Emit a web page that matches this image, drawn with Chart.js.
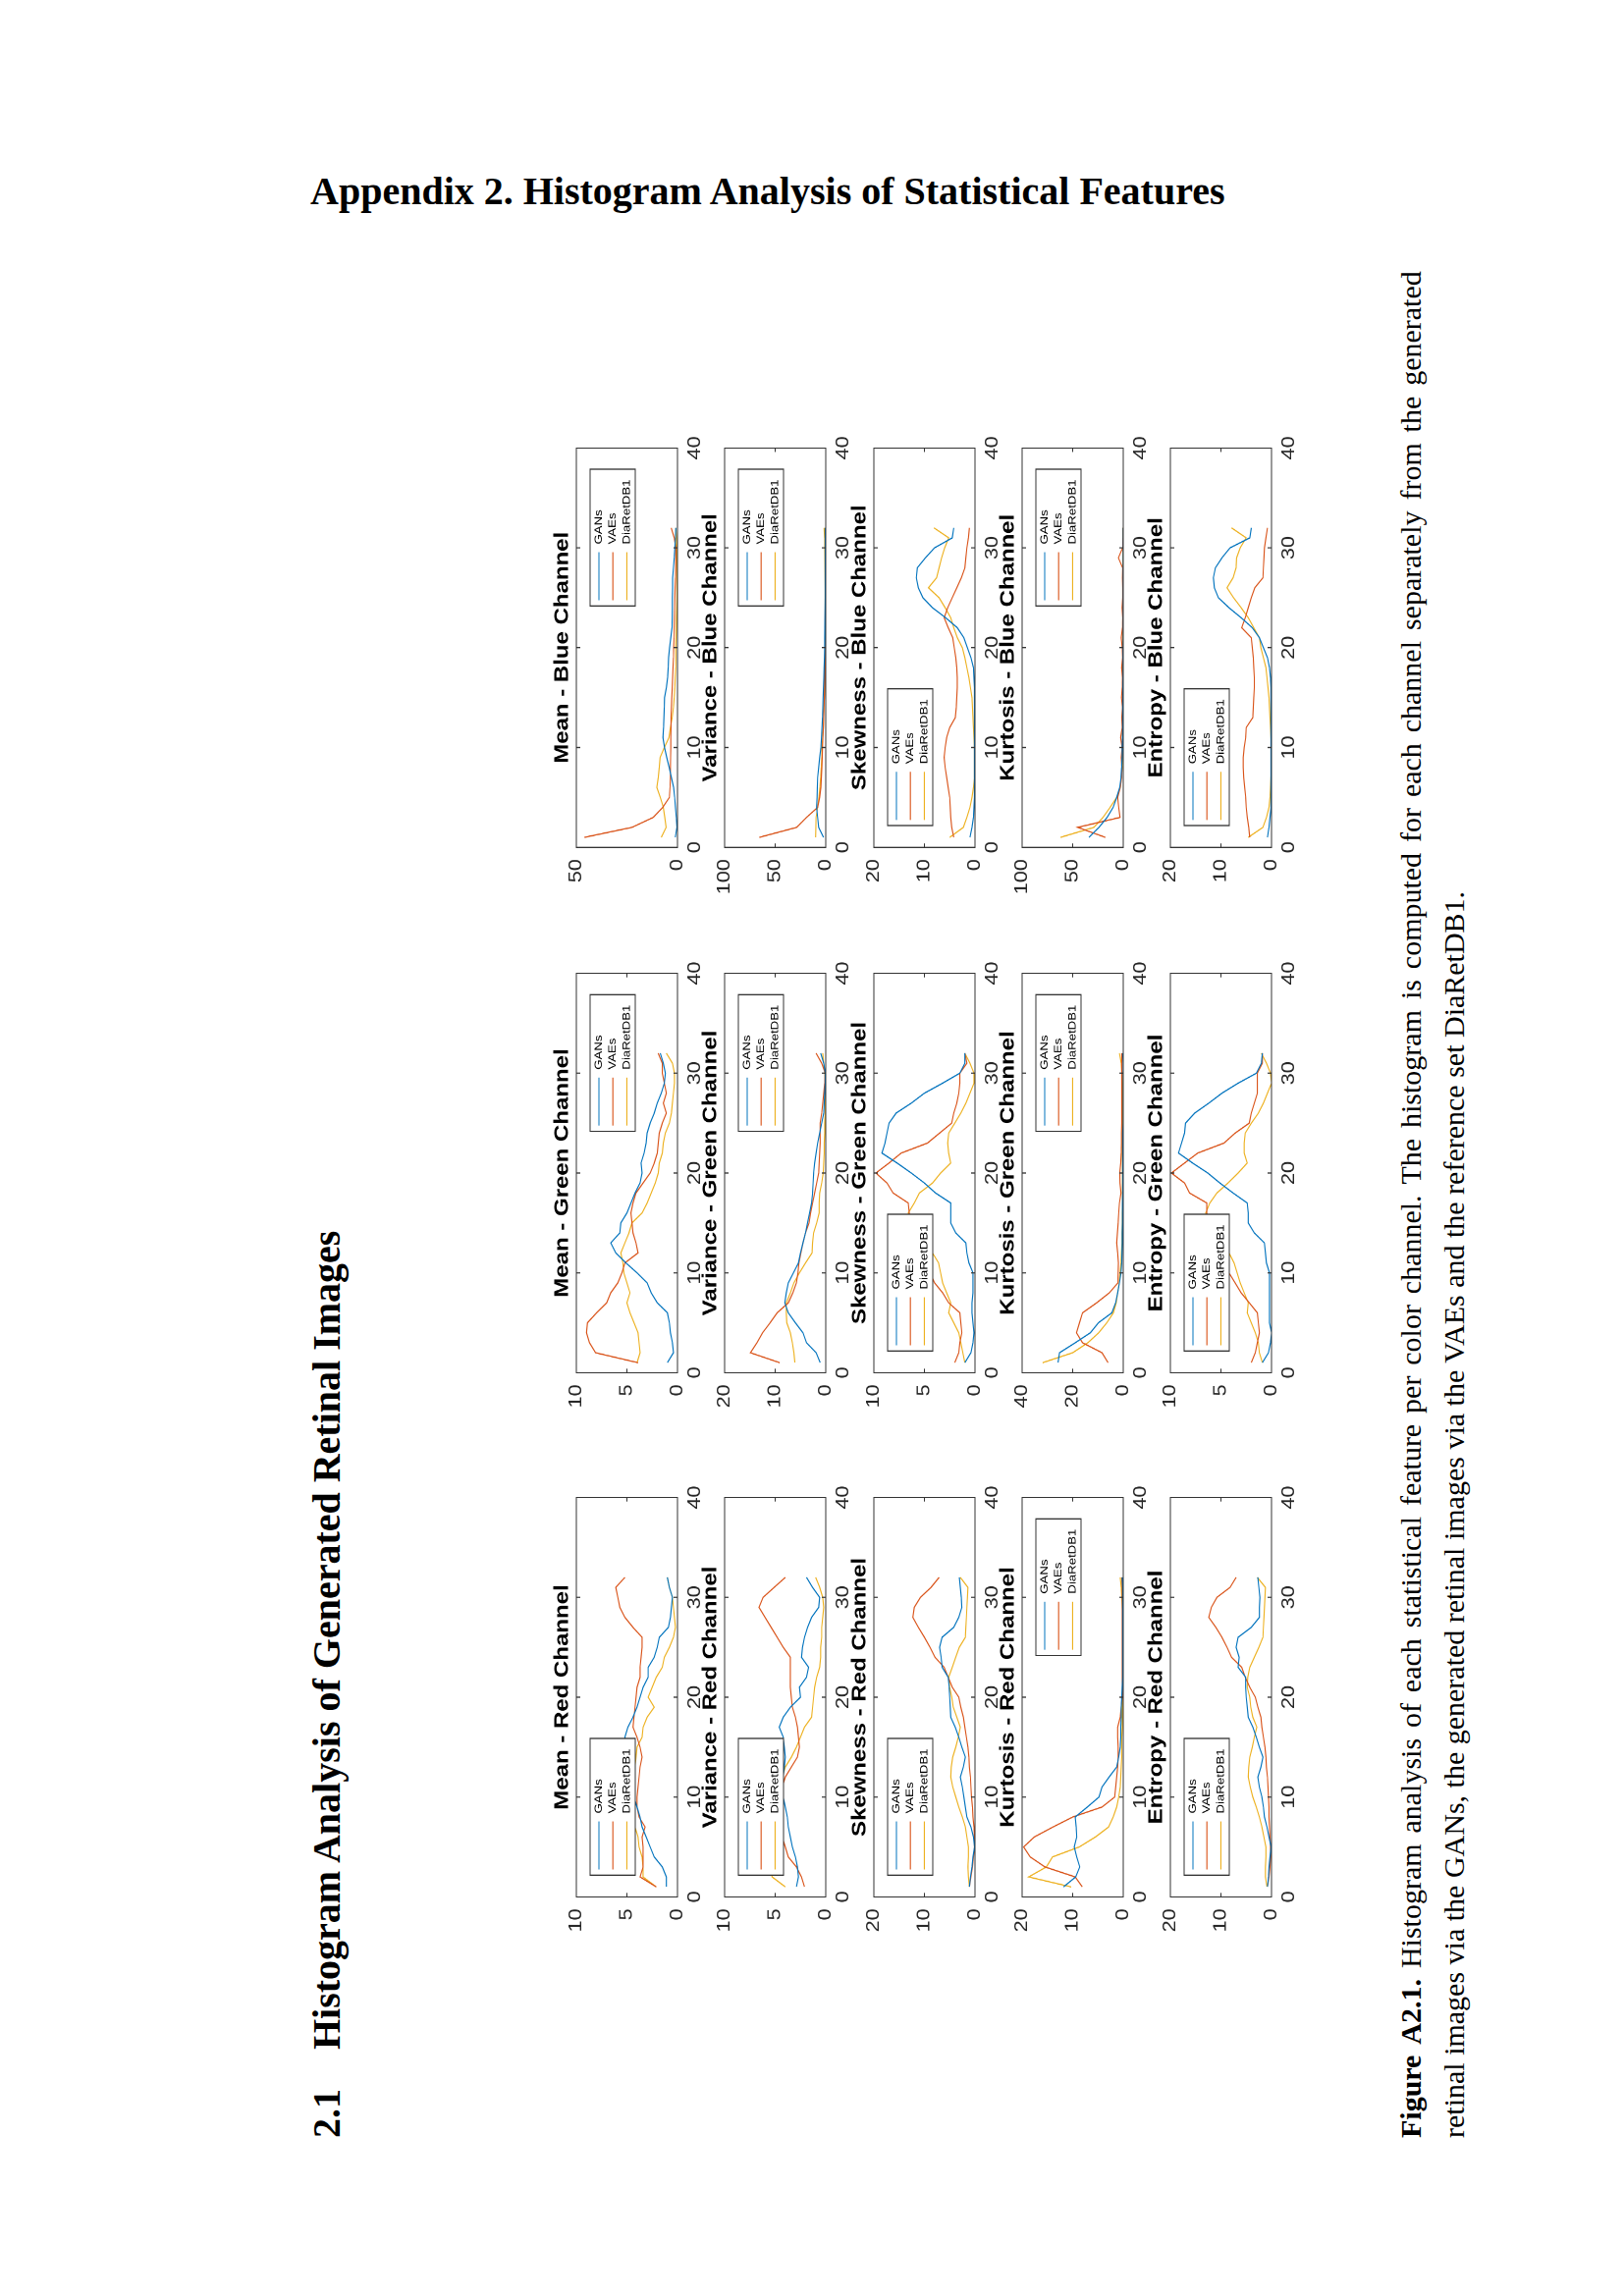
<!DOCTYPE html>
<html>
<head>
<meta charset="utf-8">
<script src="https://cdn.jsdelivr.net/npm/chart.js@4.4.1/dist/chart.umd.min.js"></script>
<style>
  html, body { margin:0; padding:0; background:#fff; }
  body { width:1654px; height:2339px; position:relative; overflow:hidden; }
  #title { position:absolute; left:316px; top:175px; font:bold 40px "Liberation Serif", "Times New Roman", serif; line-height:40px; white-space:nowrap; color:#000; }
  #rot { position:absolute; left:300px; top:2200px; width:1950px; height:1220px; transform-origin:0 0; transform:rotate(-90deg); }
  #heading { position:absolute; left:22px; top:13px; font:bold 40px "Liberation Serif", "Times New Roman", serif; line-height:40px; white-space:nowrap; color:#000; }
  #heading span { margin-left:40px; }
  .cap { position:absolute; left:22px; width:1902px; font:30px "Liberation Serif", "Times New Roman", serif; line-height:44px; white-space:nowrap; color:#000; }
  #cap1 { top:1115px; display:flex; justify-content:space-between; }
  #cap2 { top:1159px; }
  #fig { position:absolute; left:300px; top:2200px; width:1550px; height:1050px; transform-origin:0 0; transform:rotate(-90deg) scaleX(1.2); }
  #fig canvas { position:absolute; }
</style>
</head>
<body>
<div id="title">Appendix 2. Histogram Analysis of Statistical Features</div>
<div id="rot">
  <div id="heading">2.1<span>Histogram Analysis of Generated Retinal Images</span></div>
  <div class="cap" id="cap1"></div>
  <div class="cap" id="cap2">retinal images via the GANs, the generated retinal images via the VAEs and the reference set DiaRetDB1.</div>
</div>
<div id="fig"></div>
<script>
// ---------------- DATA ----------------
const bins = [1,2,3,4,5,6,7,8,9,10,11,12,13,14,15,16,17,18,19,20,21,22,23,24,25,26,27,28,29,30,31,32];
const seriesNames = ['GANs', 'VAEs', 'DiaRetDB1'];
const channels = ['Red', 'Green', 'Blue'];
const features = ['Mean', 'Variance', 'Skewness', 'Kurtosis', 'Entropy'];

// Red channel
const meanRed_GANs = [1.1,1.1,1.5,2.3,2.7,3.1,3.5,3.7,4.0,4.3,4.5,4.7,4.8,5.0,5.1,5.2,4.9,4.4,4.0,3.7,3.4,2.9,2.9,2.3,2.0,1.8,0.9,0.7,0.6,0.5,0.8,1.0];
const meanRed_VAEs = [2.1,3.7,3.4,3.4,3.4,3.5,3.2,3.8,4.0,4.0,3.9,3.8,3.7,3.5,3.7,4.0,4.4,4.3,4.2,4.1,4.0,3.7,3.7,3.6,3.5,3.5,4.4,5.2,5.7,5.9,6.1,5.2];
const meanRed_Dia  = [2.1,3.4,3.4,3.5,3.8,3.9,4.2,4.3,4.4,4.4,4.3,4.3,4.2,4.1,4.0,3.5,3.4,3.0,2.3,2.9,2.5,2.1,1.5,1.3,0.8,0.4,0.2,0.3,0.4,0.5,0.8,1.0];
const varRed_GANs = [2.9,2.7,2.8,3.0,3.3,3.5,3.7,3.8,4.0,4.2,4.3,4.2,4.1,4.0,4.1,4.2,4.6,4.2,3.5,2.5,2.6,1.9,1.7,2.4,2.3,2.1,1.8,1.4,0.7,0.6,1.3,1.9];
const varRed_VAEs = [2.1,2.4,2.9,3.7,4.0,4.3,4.4,4.5,4.5,4.4,4.3,4.0,3.4,2.8,2.6,2.7,2.8,3.0,3.3,3.4,3.5,3.5,3.5,3.5,4.2,4.8,5.4,6.0,6.6,6.2,5.1,4.0];
const varRed_Dia  = [4.0,5.3,5.5,5.4,5.2,5.0,4.8,4.7,4.6,4.5,4.4,4.3,4.0,3.4,2.9,2.5,2.1,1.4,1.3,1.2,1.1,0.9,0.6,0.5,0.5,0.4,0.4,0.3,0.2,0.3,0.6,1.0];
const skewRed_GANs = [1.1,0.9,0.6,0.4,0.1,0.3,0.8,1.6,1.9,2.2,2.5,2.9,2.3,1.9,2.6,3.2,3.9,4.8,4.9,5.0,5.1,5.3,6.5,6.7,7.0,6.5,4.2,3.2,2.6,2.7,2.9,3.1];
const skewRed_VAEs = [1.1,0.8,0.5,0.3,0.1,0.1,0.2,0.4,0.5,0.7,0.8,0.9,1.1,1.2,1.4,1.7,2.0,2.3,2.8,3.2,4.5,5.3,6.1,7.9,8.9,10.0,11.2,12.3,12.0,10.8,8.7,7.1];
const skewRed_Dia  = [1.1,1.3,1.4,1.3,1.3,1.6,1.9,2.5,3.2,3.8,4.4,4.8,4.7,4.4,3.8,3.3,2.9,3.6,4.3,4.6,5.0,5.2,4.5,3.8,3.1,1.9,1.8,1.7,1.6,1.5,1.4,2.9];
const kurtRed_GANs = [11.8,9.4,8.6,9.2,9.7,9.2,9.3,9.5,7.1,4.8,4.2,2.8,1.3,0.9,0.6,0.5,0.5,0.4,0.4,0.3,0.2,0.1,0.1,0.1,0.1,0.1,0.1,0.1,0.1,0.1,0.1,0.2];
const kurtRed_VAEs = [8.1,9.5,15.5,18.4,19.7,17.6,13.9,10.0,4.2,1.7,1.5,1.3,1.1,1.0,1.0,1.1,1.1,0.6,0.4,0.2,0.2,0.2,0.2,0.2,0.2,0.2,0.2,0.2,0.2,0.2,0.2,0.3];
const kurtRed_Dia  = [10.3,18.7,15.2,14.0,8.7,5.5,2.9,2.0,1.3,0.9,0.6,0.5,0.4,0.3,0.3,0.3,0.2,0.2,0.2,0.2,0.1,0.1,0.1,0.0,0.0,0.0,0.1,0.1,0.2,0.3,0.4,0.6];
const entRed_GANs = [0.8,0.6,0.5,0.3,0.1,0.5,0.9,1.4,1.6,1.9,2.4,2.7,2.1,1.7,2.4,3.0,3.7,4.6,4.8,5.0,5.1,5.1,6.6,6.4,7.0,6.6,4.0,2.4,2.4,2.3,2.5,2.7];
const entRed_VAEs = [0.8,0.5,0.3,0.2,0.2,0.3,0.4,0.5,0.5,0.6,0.7,0.8,1.0,1.1,1.3,1.6,1.9,2.1,2.7,3.2,4.3,5.2,5.9,7.9,8.8,9.8,11.0,12.4,11.9,10.8,8.2,7.0];
const entRed_Dia  = [0.9,1.2,1.2,1.1,1.1,1.5,1.9,2.4,3.0,3.7,4.2,4.6,4.5,4.3,3.8,3.4,2.9,3.7,4.1,4.3,4.8,4.7,4.3,3.4,2.5,1.7,1.6,1.5,1.4,1.3,1.2,2.8];

// Green channel
const meanGreen_GANs = [1.0,0.4,0.5,0.7,0.8,1.0,2.0,2.6,3.0,4.0,5.1,6.1,6.6,5.7,5.6,5.0,4.6,4.2,3.7,3.5,3.6,3.3,3.1,3.0,2.7,2.3,2.0,1.6,1.3,1.2,1.4,1.7];
const meanGreen_VAEs = [3.9,8.1,8.7,9.0,8.9,8.0,7.0,6.6,5.9,5.5,5.2,3.9,4.1,4.4,4.5,4.6,4.4,4.1,3.4,2.7,2.3,2.0,1.9,1.8,1.5,1.1,1.4,1.1,1.3,1.5,1.5,1.9];
const meanGreen_Dia  = [4.0,3.7,3.8,3.9,4.3,4.7,5.0,4.7,5.0,5.3,5.4,5.6,5.2,4.8,4.5,3.5,3.0,2.6,2.2,1.9,1.8,1.5,1.4,1.2,0.8,0.6,0.5,0.4,0.3,0.3,0.5,1.1];
const varGreen_GANs = [1.1,1.9,3.8,4.5,6.0,7.4,8.1,7.8,7.4,6.4,5.4,5.0,4.5,4.0,3.6,3.2,2.8,2.6,2.5,2.4,2.2,1.9,1.6,1.2,0.8,0.4,0.3,0.2,0.1,0.1,0.4,1.0];
const varGreen_VAEs = [9.1,14.9,13.6,12.5,11.0,9.6,7.4,6.5,5.8,5.5,5.3,4.9,4.5,4.0,3.3,3.0,2.6,2.2,1.8,1.4,1.3,1.2,1.1,1.1,1.1,0.8,0.6,0.4,0.2,0.1,0.8,1.9];
const varGreen_Dia  = [6.1,6.3,6.6,7.0,7.7,7.8,7.8,7.0,6.3,5.2,4.0,2.7,2.6,2.4,1.8,1.3,1.3,1.2,0.8,0.5,0.4,0.3,0.3,0.2,0.2,0.1,0.1,0.1,0.1,0.2,0.4,0.6];
const skewGreen_GANs = [1.0,0.4,0.2,0.1,0.2,0.3,0.3,0.2,0.2,0.2,0.6,0.8,0.9,1.9,2.4,2.4,2.4,3.9,5.0,6.3,7.7,9.2,8.9,8.7,8.5,7.8,6.3,5.0,3.2,1.5,1.0,1.0];
const skewGreen_VAEs = [2.0,1.6,1.5,1.3,1.4,1.5,2.6,3.2,4.0,4.4,4.9,5.3,5.7,6.0,6.3,6.5,6.6,8.1,8.7,9.8,8.5,7.3,4.7,3.5,2.3,2.1,1.8,1.6,1.5,1.5,0.8,1.0];
const skewGreen_Dia  = [1.0,1.2,1.4,1.6,2.1,2.6,2.4,2.8,3.2,3.4,3.6,4.2,4.6,5.2,5.9,6.6,6.0,5.5,4.2,3.4,2.4,2.6,2.7,2.6,2.0,1.4,0.9,0.5,0.1,0.1,0.5,1.0];
const kurtGreen_GANs = [25.8,25.2,19.0,13.0,9.8,4.5,3.0,2.2,1.5,0.9,0.6,0.5,0.4,0.4,0.3,0.3,0.3,0.2,0.2,0.2,0.2,0.2,0.2,0.2,0.1,0.1,0.1,0.1,0.1,0.1,0.1,0.2];
const kurtGreen_VAEs = [6.0,8.4,16.1,18.5,17.3,16.1,10.5,5.5,2.1,2.0,1.9,2.2,2.6,2.3,2.0,1.8,1.5,0.9,1.3,1.4,1.0,0.8,0.7,0.7,0.6,0.6,0.6,0.6,0.6,0.6,0.6,0.6];
const kurtGreen_Dia  = [31.9,20.0,14.0,9.7,6.5,3.9,2.8,2.2,1.6,1.3,0.9,0.7,0.5,0.5,0.4,0.4,0.3,0.3,0.3,0.3,0.3,0.3,0.3,0.3,0.3,0.3,0.3,0.4,0.4,0.5,0.8,1.5];
const entGreen_GANs = [0.9,0.3,0.1,0.0,0.2,0.2,0.2,0.2,0.2,0.2,0.5,0.6,0.7,1.7,2.3,2.3,2.4,3.8,5.1,6.3,7.8,9.2,8.9,8.6,8.5,7.6,6.2,4.9,3.3,1.5,1.0,0.9];
const entGreen_VAEs = [2.0,1.6,1.4,1.2,1.3,1.4,2.2,3.0,3.6,4.2,4.7,5.1,5.5,5.9,6.2,6.4,6.4,8.1,8.6,9.9,8.6,7.3,4.7,3.6,2.2,2.0,1.7,1.4,1.4,1.4,0.9,0.9];
const entGreen_Dia  = [0.9,1.2,1.3,1.6,2.0,2.4,2.3,2.7,3.1,3.4,3.7,4.2,4.7,5.3,6.0,6.5,6.1,5.4,4.3,3.3,2.4,2.7,2.7,2.6,2.0,1.3,0.8,0.4,0.0,0.1,0.5,1.0];

// Blue channel
const meanBlue_GANs = [1.1,0.3,0.6,1.0,1.4,1.9,3.0,4.1,5.3,6.4,7.2,6.9,6.7,6.5,6.4,5.5,4.9,4.6,4.4,3.9,3.3,2.7,2.6,2.5,2.5,2.4,2.4,2.0,1.6,1.3,1.0,0.8];
const meanBlue_VAEs = [46.0,22.5,12.0,7.3,4.0,3.7,3.5,3.5,3.4,3.3,3.3,3.2,3.2,3.0,2.8,2.6,2.4,2.2,2.0,1.9,1.7,1.6,1.5,1.4,1.3,1.2,1.0,0.9,0.8,0.8,1.6,3.1];
const meanBlue_Dia  = [8.0,5.6,6.3,7.0,8.5,10.2,9.5,9.0,8.6,6.5,4.2,3.5,2.6,2.0,1.6,1.3,1.1,0.9,0.8,0.8,0.7,0.6,0.5,0.4,0.3,0.3,0.3,0.3,0.4,0.5,0.6,0.8];
const varBlue_GANs = [2.2,7.0,8.0,9.0,8.6,8.3,8.0,7.0,6.0,4.8,4.2,3.7,3.2,2.9,2.6,2.2,1.9,1.6,1.3,1.1,1.0,0.9,0.8,0.7,0.6,0.6,0.5,0.5,0.5,0.5,0.5,0.6];
const varBlue_VAEs = [65.7,28.8,19.0,8.0,6.0,4.8,4.3,3.8,3.5,3.2,2.8,2.4,2.0,1.7,1.4,1.2,1.0,0.9,0.8,0.7,0.6,0.5,0.5,0.4,0.4,0.3,0.3,0.3,0.3,0.2,0.2,0.2];
const varBlue_Dia  = [10.0,9.8,9.6,8.0,6.8,5.8,5.0,4.4,4.0,3.8,3.0,2.4,2.0,1.7,1.4,1.2,1.0,0.9,0.8,0.8,0.7,0.7,0.6,0.6,0.6,0.6,0.7,0.8,0.9,1.0,1.2,1.6];
const skewBlue_GANs = [1.0,0.6,0.3,0.2,0.1,0.1,0.1,0.1,0.1,0.1,0.1,0.1,0.1,0.1,0.1,0.1,0.2,0.3,0.8,1.5,2.2,3.5,5.8,8.4,10.3,11.2,11.6,11.4,9.8,8.0,4.5,4.2];
const skewBlue_VAEs = [4.2,4.6,4.8,4.9,5.0,5.3,5.6,5.9,6.1,5.9,5.6,5.0,3.9,3.7,3.6,3.5,3.5,3.6,3.8,4.1,4.4,5.3,6.1,5.4,4.5,3.6,2.7,2.0,1.8,1.6,1.3,1.1];
const skewBlue_Dia  = [5.0,2.3,1.6,1.0,0.6,0.3,0.1,0.1,0.1,0.1,0.2,0.3,0.4,0.5,0.6,0.9,1.2,1.6,2.0,2.5,3.5,4.2,4.8,5.9,7.1,9.2,7.6,7.1,6.6,6.0,5.2,8.1];
const kurtBlue_GANs = [33.9,24.0,16.0,10.0,6.5,3.5,2.2,1.6,1.2,1.0,0.8,0.6,0.5,0.5,0.4,0.4,0.3,0.3,0.3,0.3,0.2,0.2,0.2,0.2,0.2,0.2,0.2,0.2,0.2,0.2,0.2,0.2];
const kurtBlue_VAEs = [17.7,45.0,3.2,4.5,5.5,3.0,1.6,1.4,2.0,1.2,2.6,1.0,1.5,0.8,1.8,1.0,0.8,1.6,0.7,1.0,2.0,0.8,0.6,1.2,0.6,0.5,0.8,0.6,4.8,0.6,0.3,0.2];
const kurtBlue_Dia  = [62.0,29.0,20.0,13.0,6.5,3.0,1.8,1.2,1.0,0.8,0.7,0.6,0.5,0.5,0.4,0.4,0.4,0.4,0.3,0.3,0.3,0.3,0.3,0.3,0.3,0.3,0.3,0.3,0.3,0.3,0.3,0.3];
const entBlue_GANs = [0.8,0.5,0.3,0.1,0.1,0.1,0.1,0.1,0.1,0.1,0.1,0.1,0.1,0.1,0.1,0.1,0.2,0.4,0.8,1.6,2.4,3.8,6.0,8.4,10.5,11.3,11.5,11.1,9.8,8.2,4.3,4.0];
const entBlue_VAEs = [4.3,4.5,4.8,5.0,5.1,5.3,5.5,5.6,5.6,5.4,5.1,5.0,3.7,3.6,3.5,3.4,3.4,3.5,3.6,3.8,4.0,5.9,5.2,4.6,4.0,3.3,1.7,1.6,1.5,1.4,1.1,0.8];
const entBlue_Dia  = [4.6,1.7,1.0,0.5,0.3,0.2,0.1,0.0,0.0,0.0,0.1,0.2,0.3,0.4,0.5,0.7,0.9,1.1,1.6,2.1,2.4,3.5,4.6,6.0,7.5,8.8,7.6,7.0,6.9,6.2,5.0,7.9];

// y-axis upper limits and tick steps, per channel (Mean, Variance, Skewness, Kurtosis, Entropy)
const yMaxRed    = [10, 10, 20, 20, 20];
const yStepRed   = [5, 5, 10, 10, 10];
const yMaxGreen  = [10, 20, 10, 40, 10];
const yStepGreen = [5, 10, 5, 20, 5];
const yMaxBlue   = [50, 100, 20, 100, 20];
const yStepBlue  = [50, 50, 10, 50, 10];
// legend corner per channel
const legendRed   = ['nw', 'nw', 'nw', 'ne', 'nw'];
const legendGreen = ['ne', 'ne', 'nw', 'ne', 'nw'];
const legendBlue  = ['ne', 'ne', 'nw', 'ne', 'nw'];
const xTickMax = 40, xTickStep = 10;

const seriesTable = {
  Red:   [[meanRed_GANs, meanRed_VAEs, meanRed_Dia], [varRed_GANs, varRed_VAEs, varRed_Dia], [skewRed_GANs, skewRed_VAEs, skewRed_Dia], [kurtRed_GANs, kurtRed_VAEs, kurtRed_Dia], [entRed_GANs, entRed_VAEs, entRed_Dia]],
  Green: [[meanGreen_GANs, meanGreen_VAEs, meanGreen_Dia], [varGreen_GANs, varGreen_VAEs, varGreen_Dia], [skewGreen_GANs, skewGreen_VAEs, skewGreen_Dia], [kurtGreen_GANs, kurtGreen_VAEs, kurtGreen_Dia], [entGreen_GANs, entGreen_VAEs, entGreen_Dia]],
  Blue:  [[meanBlue_GANs, meanBlue_VAEs, meanBlue_Dia], [varBlue_GANs, varBlue_VAEs, varBlue_Dia], [skewBlue_GANs, skewBlue_VAEs, skewBlue_Dia], [kurtBlue_GANs, kurtBlue_VAEs, kurtBlue_Dia], [entBlue_GANs, entBlue_VAEs, entBlue_Dia]]
};
const yMaxTable = { Red: yMaxRed, Green: yMaxGreen, Blue: yMaxBlue };
const yStepTable = { Red: yStepRed, Green: yStepGreen, Blue: yStepBlue };
const legendTable = { Red: legendRed, Green: legendGreen, Blue: legendBlue };

// ---------------- STYLE / LAYOUT ----------------
const COLORS = ['#0072BD', '#D95319', '#EDB120'];
const STRETCH = 1.2;
const FONT = '"Liberation Sans", Arial, Helvetica, sans-serif';
const ML = 45, MR = 45, MT = 26, MB = 30;
const BOX_W = 339, BOX_H = 103;
const COL_A = [222.5, 668.3, 1114.2];
const ROW_B = [286.7, 438.1, 589.5, 740.9, 892.3];

// caption line 1 (justified)
const cap1Words = 'Histogram analysis of each statistical feature per color channel. The histogram is computed for each channel separately from the generated'.split(' ');
const cap1 = document.getElementById('cap1');
['Figure', 'A2.1.'].forEach(w => { const s = document.createElement('span'); s.style.fontWeight = 'bold'; s.textContent = w; cap1.appendChild(s); });
cap1Words.forEach(w => { const s = document.createElement('span'); s.textContent = w; cap1.appendChild(s); });

const matlabAxes = {
  id: 'matlabAxes',
  afterDatasetsDraw(chart, args, opts) {
    const { ctx, chartArea: ca, scales: { x, y } } = chart;
    ctx.save();
    ctx.strokeStyle = '#333333';
    ctx.lineWidth = 1;
    const tlv = 4, tlu = 4 / STRETCH;
    ctx.beginPath();
    x.ticks.forEach(t => {
      const p = x.getPixelForValue(t.value);
      ctx.moveTo(p, ca.bottom); ctx.lineTo(p, ca.bottom - tlv);
      ctx.moveTo(p, ca.top); ctx.lineTo(p, ca.top + tlv);
    });
    y.ticks.forEach(t => {
      const p = y.getPixelForValue(t.value);
      ctx.moveTo(ca.left, p); ctx.lineTo(ca.left + tlu, p);
      ctx.moveTo(ca.right, p); ctx.lineTo(ca.right - tlu, p);
    });
    ctx.stroke();
    ctx.strokeRect(ca.left, ca.top, ca.right - ca.left, ca.bottom - ca.top);
    // legend box
    const w = 116, h = 46;
    const lx = opts.pos === 'ne' ? ca.right - 18 - w : ca.left + 18.5;
    const ly = ca.top + 14;
    ctx.fillStyle = '#ffffff';
    ctx.fillRect(lx, ly, w, h);
    ctx.strokeStyle = '#333333';
    ctx.lineWidth = 1;
    ctx.strokeRect(lx, ly, w, h);
    ctx.font = '11px ' + FONT;
    ctx.textBaseline = 'middle';
    ctx.textAlign = 'left';
    chart.data.datasets.forEach((ds, i) => {
      const ry = ly + 9 + i * 14.2;
      ctx.strokeStyle = ds.borderColor;
      ctx.lineWidth = 1.1;
      ctx.beginPath(); ctx.moveTo(lx + 4.75, ry); ctx.lineTo(lx + 45.6, ry); ctx.stroke();
      ctx.fillStyle = '#000000';
      ctx.fillText(ds.label, lx + 52.25, ry);
    });
    ctx.restore();
  }
};

const fig = document.getElementById('fig');
channels.forEach((ch, ci) => {
  features.forEach((feat, ri) => {
    const cv = document.createElement('canvas');
    const W = ML + BOX_W + MR, H = MT + BOX_H + MB;
    cv.width = W; cv.height = H;
    cv.style.width = W + 'px'; cv.style.height = H + 'px';
    cv.style.left = (COL_A[ci] - ML) + 'px';
    cv.style.top = (ROW_B[ri] - MT) + 'px';
    fig.appendChild(cv);
    const ymax = yMaxTable[ch][ri];
    const datasets = seriesTable[ch][ri].map((vals, si) => ({
      label: seriesNames[si],
      data: bins.map((bx, k) => ({ x: bx, y: vals[k] })),
      borderColor: COLORS[si],
      backgroundColor: COLORS[si],
      borderWidth: 1.1,
      pointRadius: 0,
      tension: 0,
      fill: false,
      yAxisID: 'y'
    }));
    new Chart(cv, {
      type: 'line',
      data: { datasets },
      options: {
        responsive: false,
        animation: false,
        devicePixelRatio: 2,
        events: [],
        layout: { padding: 0 },
        plugins: {
          legend: { display: false },
          tooltip: { enabled: false },
          title: {
            display: true,
            text: feat + ' - ' + ch + ' Channel',
            color: '#000000',
            font: { family: FONT, size: 20, weight: 'bold', lineHeight: 1.2 },
            padding: { top: 0, bottom: 2 }
          },
          matlabAxes: { pos: legendTable[ch][ri] }
        },
        scales: {
          x: {
            type: 'linear', min: 0, max: xTickMax,
            ticks: { stepSize: xTickStep, color: '#262626', padding: 7, maxRotation: 0, font: { family: FONT, size: 18, lineHeight: 1.2 } },
            grid: { display: false, drawTicks: false },
            border: { display: false },
            afterFit: s => { s.height = MB; }
          },
          y: {
            type: 'linear', position: 'left', min: 0, max: ymax,
            ticks: { stepSize: yStepTable[ch][ri], color: '#262626', padding: 10, font: { family: FONT, size: 18, lineHeight: 1.2 } },
            grid: { display: false, drawTicks: false },
            border: { display: false },
            afterFit: s => { s.width = ML; }
          },
          // empty right-hand axis: keeps the plot box centred under the title
          yRight: {
            type: 'linear', position: 'right', min: 0, max: ymax,
            ticks: { display: false },
            grid: { display: false, drawTicks: false },
            border: { display: false },
            afterFit: s => { s.width = MR; }
          }
        }
      },
      plugins: [matlabAxes]
    });
  });
});
</script>
</body>
</html>
